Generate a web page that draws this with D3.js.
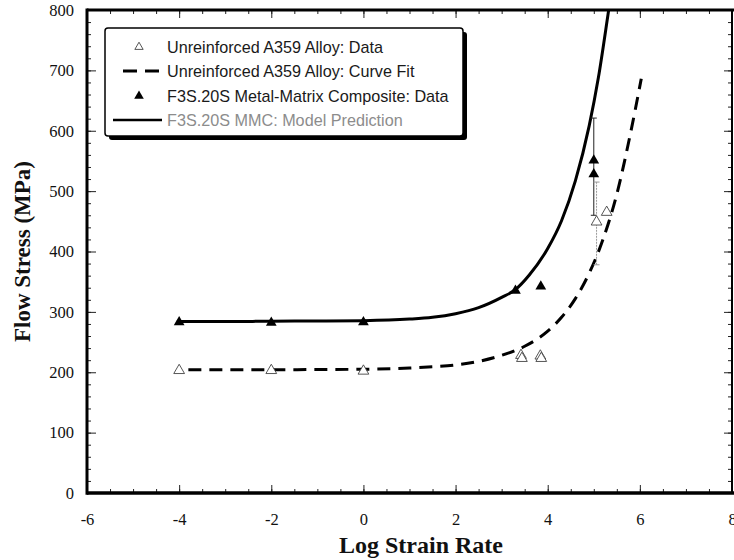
<!DOCTYPE html>
<html>
<head>
<meta charset="utf-8">
<script src="https://cdn.jsdelivr.net/npm/d3@7"></script>
<style>
  body { margin: 0; background: #fff; }
  svg { display: block; }
</style>
</head>
<body>
<svg id="chart" width="734" height="560"></svg>
<script>
// Flow stress (MPa) against log strain rate

// Unreinforced A359 alloy: measured points
const alloyDataX = [-4, -2, 0, 3.42, 3.44, 3.84, 3.86, 5.06, 5.28];
const alloyDataY = [203, 203, 202, 228, 223, 227, 223, 449, 465];

// F3S.20S metal-matrix composite: measured points
const mmcDataX = [-4, -2, 0, 3.3, 3.85, 5.0, 5.0];
const mmcDataY = [283, 282, 283, 335, 342, 551, 528];

// Unreinforced A359 alloy: curve fit
const alloyFitX = [-3.8, -3, -2, -1, 0, 1, 1.5, 2, 2.5, 3, 3.5, 4, 4.3, 4.6, 4.9, 5.2, 5.5, 5.8, 6.03];
const alloyFitY = [204, 204, 204, 204.5, 205, 207, 209, 212, 218, 228, 243, 268, 291, 322, 364, 420, 495, 597, 686];

// F3S.20S MMC: model prediction
const mmcModelX = [-4.05, -3, -2, -1, 0, 1, 1.5, 2, 2.5, 3, 3.3, 3.6, 4, 4.3, 4.6, 4.9, 5.1, 5.3, 5.4];
const mmcModelY = [284, 284, 284.5, 285, 285.5, 288, 291, 297, 307, 324, 337, 361, 405, 451, 517, 608, 688, 788, 840];

// Scatter ranges at the highest strain rate
const mmcErrX = [5.0];
const mmcErrLow = [460];
const mmcErrHigh = [621];
const alloyErrX = [5.06];
const alloyErrLow = [378];
const alloyErrHigh = [515];

// Axis ticks
const xTickLabels = [-6, -4, -2, 0, 2, 4, 6, 8];
const xMinorTicks = d3.range(-6, 8.01, 0.5);
const yTickLabels = [0, 100, 200, 300, 400, 500, 600, 700, 800];
const yMinorTicks = d3.range(0, 800.1, 20);

const legendLabels = [
  "Unreinforced A359 Alloy: Data",
  "Unreinforced A359 Alloy: Curve Fit",
  "F3S.20S Metal-Matrix Composite: Data",
  "F3S.20S MMC: Model Prediction"
];

const svg = d3.select("#chart");
const plotLeft = 87, plotRight = 732, plotTop = 10, plotBottom = 493;

const x = d3.scaleLinear().domain([-6, 8]).range([plotLeft, plotRight]);
const y = d3.scaleLinear().domain([0, 800]).range([plotBottom, plotTop]);

const serif = "'Liberation Serif', 'DejaVu Serif', serif";
const sans = "'Liberation Sans', Arial, sans-serif";
const plainNumber = d => String(d);

svg.append("defs").append("clipPath").attr("id", "plot-clip")
  .append("rect").attr("x", plotLeft).attr("y", plotTop)
  .attr("width", plotRight - plotLeft).attr("height", plotBottom - plotTop);

// ---- axes: inward ticks on all four sides ----
function styleAxis(g) {
  g.select(".domain").remove();
  g.selectAll(".tick line").attr("stroke", "#222").attr("stroke-width", 1);
  g.selectAll("text").attr("font-family", serif).attr("font-size", 16.5).attr("fill", "#111");
}

svg.append("g").attr("transform", `translate(0,${plotBottom})`)
  .call(d3.axisBottom(x).tickValues(xMinorTicks).tickSize(-4).tickFormat(""))
  .call(styleAxis);
svg.append("g").attr("transform", `translate(0,${plotBottom})`)
  .call(d3.axisBottom(x).tickValues(xTickLabels).tickSize(-8).tickPadding(20).tickFormat(plainNumber))
  .call(styleAxis);

svg.append("g").attr("transform", `translate(0,${plotTop})`)
  .call(d3.axisTop(x).tickValues(xMinorTicks).tickSize(-4).tickFormat(""))
  .call(styleAxis);
svg.append("g").attr("transform", `translate(0,${plotTop})`)
  .call(d3.axisTop(x).tickValues(xTickLabels).tickSize(-8).tickFormat(""))
  .call(styleAxis);

svg.append("g").attr("transform", `translate(${plotLeft},0)`)
  .call(d3.axisLeft(y).tickValues(yMinorTicks).tickSize(-4).tickFormat(""))
  .call(styleAxis);
svg.append("g").attr("transform", `translate(${plotLeft},0)`)
  .call(d3.axisLeft(y).tickValues(yTickLabels).tickSize(-9).tickPadding(13).tickFormat(plainNumber))
  .call(styleAxis);

svg.append("g").attr("transform", `translate(${plotRight},0)`)
  .call(d3.axisRight(y).tickValues(yMinorTicks).tickSize(-4).tickFormat(""))
  .call(styleAxis);
svg.append("g").attr("transform", `translate(${plotRight},0)`)
  .call(d3.axisRight(y).tickValues(yTickLabels).tickSize(-8).tickFormat(""))
  .call(styleAxis);

// frame
svg.append("line").attr("x1", plotLeft).attr("x2", plotRight + 2).attr("y1", plotTop).attr("y2", plotTop)
  .attr("stroke", "#000").attr("stroke-width", 3);
svg.append("line").attr("x1", plotLeft).attr("x2", plotRight + 2).attr("y1", plotBottom).attr("y2", plotBottom)
  .attr("stroke", "#000").attr("stroke-width", 3.5);
svg.append("line").attr("x1", plotLeft).attr("x2", plotLeft).attr("y1", plotTop - 1.5).attr("y2", plotBottom + 1.75)
  .attr("stroke", "#000").attr("stroke-width", 3);
svg.append("line").attr("x1", plotRight).attr("x2", plotRight).attr("y1", plotTop).attr("y2", plotBottom)
  .attr("stroke", "#000").attr("stroke-width", 2);

// axis titles
svg.append("text").attr("x", 421).attr("y", 553)
  .attr("text-anchor", "middle").attr("font-family", serif).attr("font-weight", "bold")
  .attr("font-size", 24).attr("fill", "#111").text("Log Strain Rate");
svg.append("text").attr("transform", `translate(30,${(plotTop + plotBottom) / 2}) rotate(-90)`)
  .attr("text-anchor", "middle").attr("font-family", serif).attr("font-weight", "bold")
  .attr("font-size", 23).attr("fill", "#111").text("Flow Stress (MPa)");

// ---- curves ----
const plot = svg.append("g").attr("clip-path", "url(#plot-clip)");
const line = d3.line().x(d => x(d[0])).y(d => y(d[1])).curve(d3.curveMonotoneX);

plot.append("path").datum(d3.zip(alloyFitX, alloyFitY))
  .attr("d", line).attr("fill", "none").attr("stroke", "#000")
  .attr("stroke-width", 3).attr("stroke-dasharray", "13,8");

plot.append("path").datum(d3.zip(mmcModelX, mmcModelY))
  .attr("d", line).attr("fill", "none").attr("stroke", "#000")
  .attr("stroke-width", 3);

// ---- scatter ranges ----
function errorBars(xs, lo, hi, color, dash) {
  const g = plot.append("g").attr("stroke", color).attr("stroke-width", 1);
  xs.forEach((xv, i) => {
    g.append("line").attr("x1", x(xv)).attr("x2", x(xv))
      .attr("y1", y(lo[i])).attr("y2", y(hi[i])).attr("stroke-dasharray", dash);
    [lo[i], hi[i]].forEach(v => {
      g.append("line").attr("x1", x(xv) - 3).attr("x2", x(xv) + 3)
        .attr("y1", y(v)).attr("y2", y(v));
    });
  });
}
errorBars(mmcErrX, mmcErrLow, mmcErrHigh, "#222", null);
errorBars(alloyErrX, alloyErrLow, alloyErrHigh, "#9a9a9a", "2,1");

// ---- data markers ----
const tri = d3.symbol().type(d3.symbolTriangle).size(50)();

plot.append("g").selectAll("path").data(d3.zip(alloyDataX, alloyDataY)).join("path")
  .attr("d", tri).attr("transform", d => `translate(${x(d[0])},${y(d[1])})`)
  .attr("fill", "#fff").attr("stroke", "#444").attr("stroke-width", 0.9);

plot.append("g").selectAll("path").data(d3.zip(mmcDataX, mmcDataY)).join("path")
  .attr("d", tri).attr("transform", d => `translate(${x(d[0])},${y(d[1])})`)
  .attr("fill", "#000");

// ---- legend ----
const lg = svg.append("g");
const bx = 105, by = 28, bw = 358, bh = 108;
lg.append("rect").attr("x", bx + 4).attr("y", by + 4).attr("width", bw).attr("height", bh)
  .attr("rx", 3).attr("fill", "#000");
lg.append("rect").attr("x", bx).attr("y", by).attr("width", bw).attr("height", bh)
  .attr("rx", 3).attr("fill", "#fff").attr("stroke", "#000").attr("stroke-width", 1.5);

const rowY = [47, 71, 96, 120];
const textX = 167;
lg.selectAll("text.lbl").data(legendLabels).join("text")
  .attr("class", "lbl")
  .attr("x", textX).attr("y", (d, i) => rowY[i] + 5.5)
  .attr("font-family", sans).attr("font-size", 16.2)
  .attr("fill", (d, i) => i === 3 ? "#8c8c8c" : "#1a1a1a")
  .text(d => d);

lg.append("path").attr("d", d3.symbol().type(d3.symbolTriangle).size(30)())
  .attr("transform", `translate(139,${rowY[0]})`)
  .attr("fill", "#fff").attr("stroke", "#444").attr("stroke-width", 0.9);
lg.append("line").attr("x1", 123).attr("x2", 160).attr("y1", rowY[1]).attr("y2", rowY[1])
  .attr("stroke", "#000").attr("stroke-width", 3).attr("stroke-dasharray", "14,8");
lg.append("path").attr("d", d3.symbol().type(d3.symbolTriangle).size(40)())
  .attr("transform", `translate(139,${rowY[2]})`).attr("fill", "#000");
lg.append("line").attr("x1", 113).attr("x2", 162).attr("y1", rowY[3]).attr("y2", rowY[3])
  .attr("stroke", "#000").attr("stroke-width", 2.5);
</script>
</body>
</html>
